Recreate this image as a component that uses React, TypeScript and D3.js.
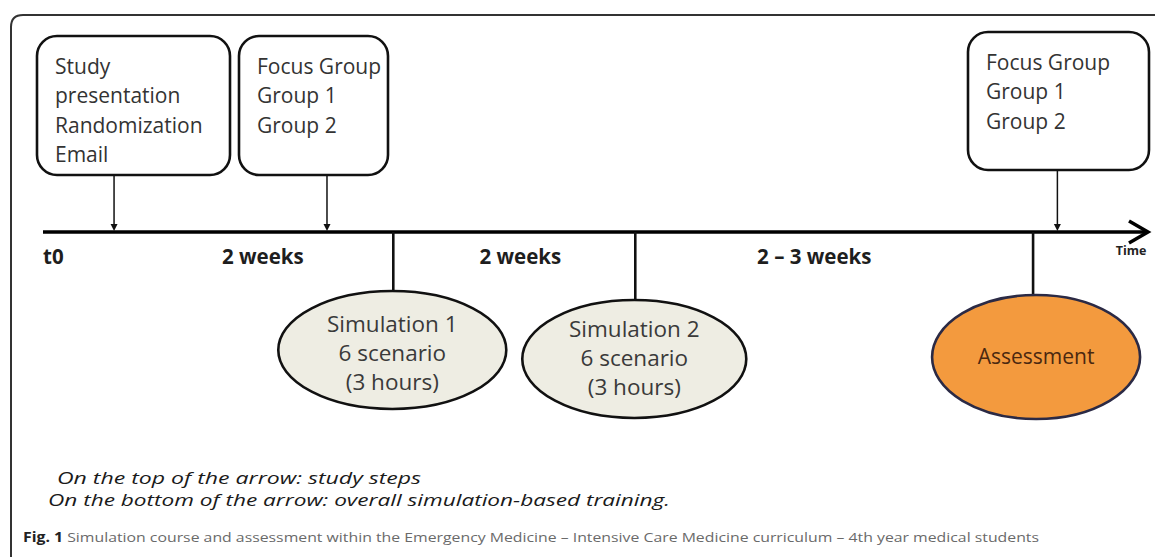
import React from "react";
import * as d3 from "d3";

// ---- content ----
const stepBoxLines: string[][] = [
  ["Study", "presentation", "Randomization", "Email"],
  ["Focus Group", "Group 1", "Group 2"],
  ["Focus Group", "Group 1", "Group 2"],
];
const periodLabels = ["t0", "2 weeks", "2 weeks", "2 \u2013 3 weeks"];
const sessionLines: string[][] = [
  ["Simulation 1", "6 scenario", "(3 hours)"],
  ["Simulation 2", "6 scenario", "(3 hours)"],
  ["Assessment"],
];
const axisLabel = "Time";
const noteLines = [
  "On the top of the arrow: study steps",
  "On the bottom of the arrow: overall simulation-based training.",
];
const captionBold = "Fig. 1";
const captionText =
  " Simulation course and assessment within the Emergency Medicine \u2013 Intensive Care Medicine curriculum \u2013 4th year medical students";

// ---- layout (timeline units 0..100 along the arrow) ----
const W = 1155;
const H = 557;
const x = d3.scaleLinear().domain([0, 100]).range([43, 1148]);
const axisY = 232;
const stepArrowAt = [6.43, 25.7, 91.8];
const stepBoxes = [
  { x0: 37, x1: 230, y0: 36, y1: 175 },
  { x0: 239, x1: 388, y0: 36, y1: 175 },
  { x0: 968, x1: 1149, y0: 32, y1: 170 },
];
const periodAt = [0, 19.9, 43.2, 69.8];
const periodAnchor = ["start", "middle", "middle", "middle"];
const sessionAt = [31.7, 53.6, 89.6];
const sessionShape = [
  { dx: -1, cy: 350, rx: 114, ry: 59, tdy: 4 },
  { dx: -1, cy: 359, rx: 112, ry: 59, tdy: 0 },
  { dx: 3, cy: 357, rx: 104, ry: 62, tdy: 0 },
];
const sessionFill = ["#eeede3", "#eeede3", "#f39a3e"];
const sessionStroke = ["#111", "#111", "#2b2a45"];
const sessionText = ["#3a3a3a", "#3a3a3a", "#4a2810"];
const noteX = [57, 48];
const noteW = [364, 622];

const FONT = "'Open Sans', 'DejaVu Sans', sans-serif";

export default function App() {
  const lineH = 29.5;
  return (
    <svg width={W} height={H} style={{ display: "block", position: "absolute", left: 0, top: 0 }}>
      <rect width={W} height={H} fill="#fff" />
      {/* outer frame */}
      <path d={`M11,${H} L11,27 Q11,15 23,15 L${W},15`} fill="none" stroke="#333" strokeWidth={2} />

      {/* step boxes */}
      {stepBoxLines.map((lines, i) => {
        const b = stepBoxes[i];
        const ax = x(stepArrowAt[i]);
        return (
          <g key={"s" + i}>
            <rect x={b.x0} y={b.y0} width={b.x1 - b.x0} height={b.y1 - b.y0} rx={20} ry={20}
              fill="#fff" stroke="#111" strokeWidth={2.6} />
            {lines.map((t, j) => (
              <text key={j} x={b.x0 + 18} y={b.y0 + 37.5 + j * lineH} fontFamily={FONT} fontSize={21}
                fill="#333">{t}</text>
            ))}
            <line x1={ax} x2={ax} y1={b.y1} y2={axisY - 6} stroke="#111" strokeWidth={1.5} />
            <path d={`M${ax - 3.5},${axisY - 8} L${ax + 3.5},${axisY - 8} L${ax},${axisY - 1} Z`} fill="#111" />
          </g>
        );
      })}

      {/* axis */}
      <line x1={x(0)} x2={x(100) - 2} y1={axisY} y2={axisY} stroke="#000" strokeWidth={3.5} />
      <path d={`M${x(100) - 19},${axisY - 11} L${x(100)},${axisY} L${x(100) - 19},${axisY + 11}`}
        fill="none" stroke="#000" strokeWidth={3.5} strokeLinejoin="miter" />
      <text x={x(100) - 17} y={axisY + 23} textAnchor="middle" fontFamily={FONT} fontWeight={700}
        fontSize={12.5} fill="#222">{axisLabel}</text>

      {/* period labels */}
      {periodLabels.map((t, i) => (
        <text key={"p" + i} x={x(periodAt[i])} y={axisY + 32} textAnchor={periodAnchor[i] as any}
          fontFamily={FONT} fontWeight={700} fontSize={20.5} fill="#1e1e1e">{t}</text>
      ))}

      {/* sessions */}
      {sessionLines.map((lines, i) => {
        const cx0 = x(sessionAt[i]);
        const s = sessionShape[i];
        const cx = cx0 + s.dx;
        const n = lines.length;
        return (
          <g key={"e" + i}>
            <line x1={cx0} x2={cx0} y1={axisY} y2={s.cy - s.ry + 1} stroke="#111" strokeWidth={2.6} />
            <ellipse cx={cx} cy={s.cy} rx={s.rx} ry={s.ry} fill={sessionFill[i]} stroke={sessionStroke[i]}
              strokeWidth={2.6} />
            {lines.map((t, j) => (
              <text key={j} x={cx} y={s.cy + (j - (n - 1) / 2) * 29 + 7 + s.tdy} textAnchor="middle"
                fontFamily={FONT} fontSize={n === 1 ? 21 : 22.5} fill={sessionText[i]}>{t}</text>
            ))}
          </g>
        );
      })}

      {/* notes */}
      {noteLines.map((t, i) => (
        <text key={"n" + i} x={noteX[i]} y={484 + i * 22} fontFamily={FONT} fontStyle="italic"
          fontWeight={500} fontSize={16} fill="#1a1a1a" textLength={noteW[i]}
          lengthAdjust="spacingAndGlyphs">{t}</text>
      ))}

      {/* caption */}
      <text x={23} y={542} fontFamily={FONT} fontSize={13.5} fill="#6a6a6a" textLength={1016}
        lengthAdjust="spacingAndGlyphs">
        <tspan fontWeight={700} fill="#222">{captionBold}</tspan>
        <tspan>{captionText}</tspan>
      </text>
    </svg>
  );
}
